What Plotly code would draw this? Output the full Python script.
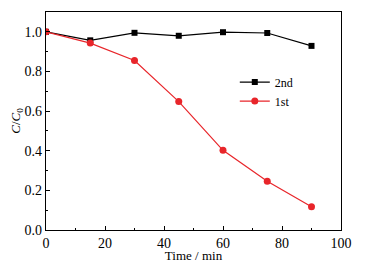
import plotly.graph_objects as go

time_min = [0, 15, 30, 45, 60, 75, 90]
second_run = [1.0, 0.957, 0.995, 0.980, 0.998, 0.994, 0.929]
first_run = [1.0, 0.943, 0.855, 0.648, 0.402, 0.246, 0.117]

fig = go.Figure()
fig.add_trace(go.Scatter(x=time_min, y=second_run, name="2nd", mode="lines+markers",
                         line=dict(color="black", width=1.2),
                         marker=dict(symbol="square", size=6, color="black")))
fig.add_trace(go.Scatter(x=time_min, y=first_run, name="1st", mode="lines+markers",
                         line=dict(color="#e8252a", width=1.2),
                         marker=dict(symbol="circle", size=7, color="#e8252a")))

serif = "Liberation Serif"
axis_common = dict(showgrid=False, zeroline=False, showline=True, linecolor="black", linewidth=1.2,
                   mirror=True, ticks="inside", ticklen=4, tickcolor="black", automargin=False,
                   tickfont=dict(family=serif, size=14, color="black"))
fig.update_xaxes(range=[0, 100], dtick=20, title=dict(text="Time / min", standoff=1,
                 font=dict(family=serif, size=13, color="black")),
                 minor=dict(dtick=10, ticks="inside", ticklen=2, tickcolor="black"), **axis_common)
fig.update_yaxes(range=[0, 1.1], dtick=0.2, tickformat=".1f",
                 title=dict(text="<i>C</i>/<i>C</i><sub>0</sub>", standoff=4,
                            font=dict(family=serif, size=13, color="black")),
                 minor=dict(dtick=0.1, ticks="inside", ticklen=2, tickcolor="black"), **axis_common)

# page body adds an 8px offset; figure sized/margined so the plot area lands at x 46-341, y 12-230
fig.update_layout(width=358, height=255, margin=dict(l=38, r=25, t=4, b=33),
                  paper_bgcolor="white", plot_bgcolor="white", showlegend=True,
                  legend=dict(x=0.64, y=0.745, xanchor="left", yanchor="top", bgcolor="rgba(0,0,0,0)",
                              font=dict(family=serif, size=12, color="black"),
                              itemwidth=30, tracegroupgap=0))

fig.write_html("out.html")
